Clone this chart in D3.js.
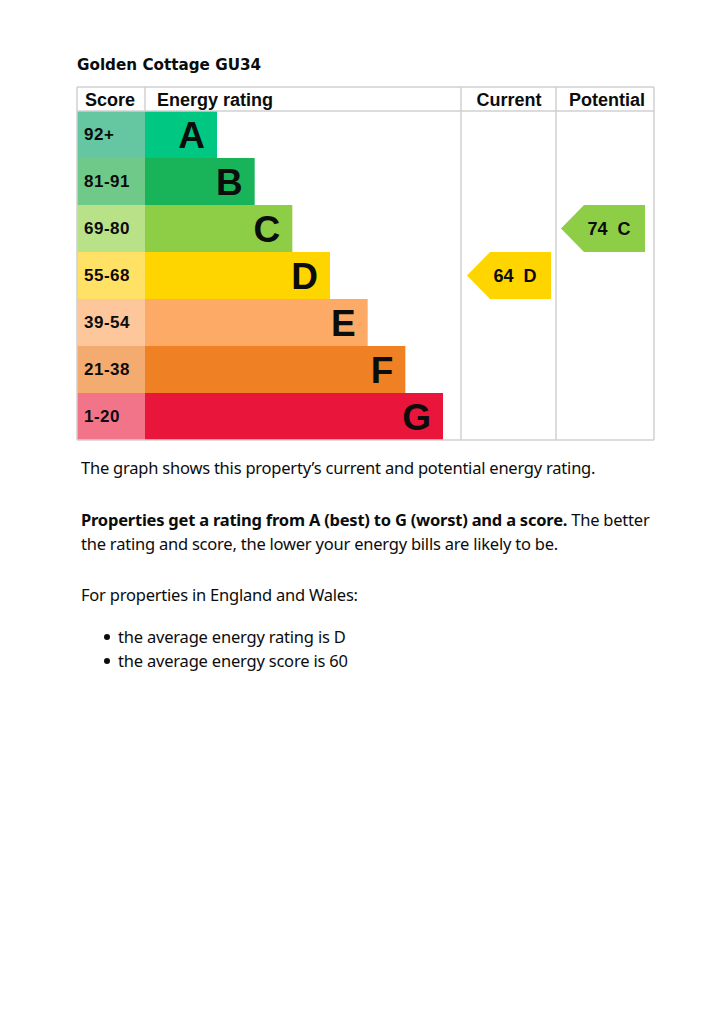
<!DOCTYPE html>
<html><head><meta charset="utf-8">
<script src="https://cdn.jsdelivr.net/npm/d3@7"></script>
<style>
body{margin:0;background:#fff;}
svg{display:block;}
</style></head>
<body>
<svg id="chart" width="724" height="1024"></svg>
<script>
const title = "Golden Cottage GU34";
const bands = ["A","B","C","D","E","F","G"];
const scoreRanges = ["92+","81-91","69-80","55-68","39-54","21-38","1-20"];
const bandColors = ["#00c781","#19b459","#8dce46","#ffd500","#fcaa65","#ef8023","#e9153b"];
const scoreColors = ["#64c7a1","#6fca8a","#b8e188","#ffe265","#fdc79b","#f3ab70","#f27489"];
const headers = ["Score","Energy rating","Current","Potential"];
const currentScore = 64, currentBand = "D";
const potentialScore = 74, potentialBand = "C";
const paragraphs = [
  [{t:"The graph shows this property\u2019s current and potential energy rating.", b:false}],
  [{t:"Properties get a rating from A (best) to G (worst) and a score.", b:true},{t:" The better", b:false}],
  [{t:"the rating and score, the lower your energy bills are likely to be.", b:false}],
  [{t:"For properties in England and Wales:", b:false}]
];
const bullets = ["the average energy rating is D","the average energy score is 60"];

(function(){
const svg = d3.select("#chart");
const tL = 77, tR = 654, tT = 87, headerH = 24, tB = 440;
const colScore = 145, colCurrent = 461, colPotential = 556;

const y = d3.scaleBand().domain(bands).range([tT+headerH, tB]).padding(0);
const xBar = d3.scaleLinear().domain([0, bands.length-1]).range([217, 443]);

svg.append("text").attr("x", 77).attr("y", 70)
  .attr("font-family","DejaVu Sans, Verdana, sans-serif").attr("font-weight","bold")
  .attr("font-size", 15.2).attr("fill","#0b0c0c").text(title);

const g = svg.append("g");
const gridCol = "#d0d0d0";
g.selectAll("rect.score").data(bands).join("rect").attr("class","score")
  .attr("x", tL).attr("y", d=>y(d)).attr("width", colScore-tL).attr("height", y.bandwidth())
  .attr("fill",(d,i)=>scoreColors[i]);
g.selectAll("rect.bar").data(bands).join("rect").attr("class","bar")
  .attr("x", colScore).attr("y", d=>y(d)).attr("width",(d,i)=>xBar(i)-colScore).attr("height", y.bandwidth())
  .attr("fill",(d,i)=>bandColors[i]);
g.selectAll("text.sl").data(scoreRanges).join("text").attr("class","sl")
  .attr("x", 84).attr("y",(d,i)=>y(bands[i])+y.bandwidth()/2+5.5)
  .attr("font-family","Liberation Sans, Arial, sans-serif").attr("font-weight","bold")
  .attr("font-size",17).attr("letter-spacing",0.5).attr("fill","#0b0c0c").text(d=>d);
g.selectAll("text.bl").data(bands).join("text").attr("class","bl")
  .attr("x",(d,i)=>xBar(i)-12).attr("y",d=>y(d)+y.bandwidth()/2+13)
  .attr("text-anchor","end")
  .attr("font-family","Liberation Sans, Arial, sans-serif").attr("font-weight","bold")
  .attr("font-size",37).attr("fill","#0b0c0c").text(d=>d);

const lines = [
  [tL, tT, tR, tT],
  [tL, tB, tR, tB],
  [tL, tT, tL, tB],
  [tR, tT, tR, tB],
  [tL, tT+headerH, tR, tT+headerH],
  [colScore, tT, colScore, tT+headerH],
  [colCurrent, tT, colCurrent, tB],
  [colPotential, tT, colPotential, tB]
];
g.selectAll("line.grid").data(lines).join("line").attr("class","grid")
  .attr("x1",d=>d[0]).attr("y1",d=>d[1]).attr("x2",d=>d[2]).attr("y2",d=>d[3])
  .attr("stroke",gridCol).attr("stroke-width",1.5);

const headerX = [85, 157, 509, 607];
const headerAnchor = ["start","start","middle","middle"];
g.selectAll("text.h").data(headers).join("text").attr("class","h")
  .attr("x",(d,i)=>headerX[i]).attr("y", tT+19)
  .attr("text-anchor",(d,i)=>headerAnchor[i])
  .attr("font-family","Liberation Sans, Arial, sans-serif").attr("font-weight","bold")
  .attr("font-size",18).attr("fill","#0b0c0c").text(d=>d);

function arrow(x0, x1, band, score){
  const yt = y(band), h = y.bandwidth(), ym = yt + h/2;
  const tip = 23;
  const pts = [[x0, ym],[x0+tip, yt],[x1, yt],[x1, yt+h],[x0+tip, yt+h]];
  g.append("path").attr("d", d3.line()(pts)+"Z").attr("fill", bandColors[bands.indexOf(band)]);
  g.append("text").attr("x", x0+tip+25).attr("y", ym+6).attr("text-anchor","middle")
    .attr("font-family","Liberation Sans, Arial, sans-serif").attr("font-weight","bold")
    .attr("font-size",18).attr("fill","#0b0c0c").attr("xml:space","preserve")
    .text(score + "  " + band);
}
arrow(colCurrent+6, colPotential-5, currentBand, currentScore);
arrow(colPotential+5, tR-9, potentialBand, potentialScore);

const bodyFont = "Noto Sans, Open Sans, sans-serif";
const lineY = [474, 526, 550, 601];
paragraphs.forEach((p,i)=>{
  const t = svg.append("text").attr("x",81).attr("y",lineY[i])
    .attr("font-family",bodyFont).attr("font-size",16.5).attr("fill","#0b0c0c")
    .attr("letter-spacing",-0.22).attr("xml:space","preserve");
  t.selectAll("tspan").data(p).join("tspan").attr("font-weight",d=>d.b?"bold":"normal").text(d=>d.t);
});
const by = [643, 667];
bullets.forEach((b,i)=>{
  svg.append("circle").attr("cx",107).attr("cy",by[i]-6).attr("r",3).attr("fill","#0b0c0c");
  svg.append("text").attr("x",118).attr("y",by[i])
    .attr("font-family",bodyFont).attr("font-size",16.5).attr("fill","#0b0c0c")
    .attr("letter-spacing",-0.2).text(b);
});
})();
</script>
</body></html>
